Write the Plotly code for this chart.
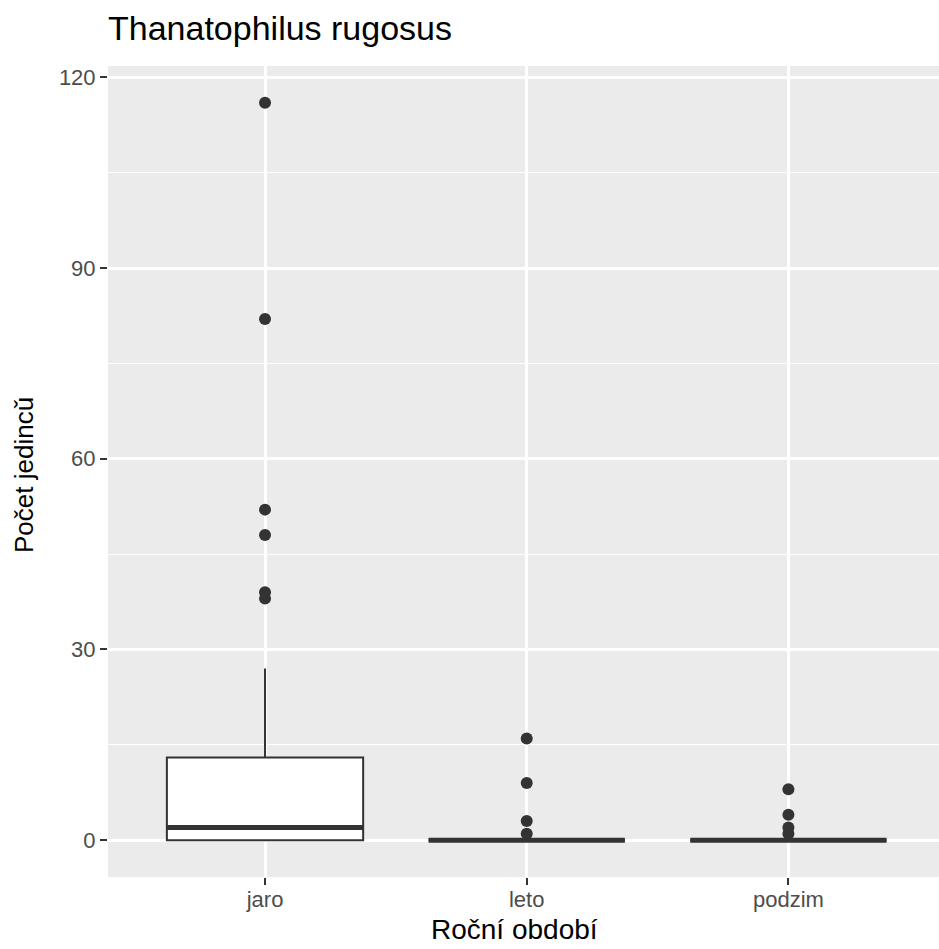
import plotly.graph_objects as go

categories = ["jaro", "leto", "podzim"]
q1 = [0, 0, 0]
medians = [2, 0, 0]
q3 = [13, 0, 0]
lower_whisker = [0, 0, 0]
upper_whisker = [27, 0, 0]
outliers = {
    "jaro": [116, 82, 52, 48, 39, 38],
    "leto": [16, 9, 3, 1],
    "podzim": [8, 4, 2, 1],
}
y_ticks = [0, 30, 60, 90, 120]
y_minor = [15, 45, 75, 105]

title_text = "Thanatophilus rugosus"
x_title = "Roční období"
y_title = "Počet jedincǔ"

positions = [i + 1 for i in range(len(categories))]
box_width = 0.75
dark = "#333333"
font_family = "Liberation Sans, Arial, sans-serif"

fig = go.Figure()

fig.add_trace(go.Box(
    x=positions, q1=q1, median=medians, q3=q3,
    lowerfence=lower_whisker, upperfence=upper_whisker,
    width=box_width, whiskerwidth=0,
    fillcolor="white", line=dict(color=dark, width=2),
    boxpoints=False, showlegend=False, hoverinfo="skip",
))

# thicker median lines (ggplot fatten)
for pos, m in zip(positions, medians):
    fig.add_trace(go.Scatter(
        x=[pos - box_width / 2, pos + box_width / 2], y=[m, m],
        mode="lines", line=dict(color=dark, width=5),
        showlegend=False, hoverinfo="skip",
    ))

for pos, cat in zip(positions, categories):
    vals = outliers[cat]
    fig.add_trace(go.Scatter(
        x=[pos] * len(vals), y=vals, mode="markers",
        marker=dict(color=dark, size=12, line=dict(width=0)),
        showlegend=False, hoverinfo="skip",
    ))

ymin, ymax = -5.8, 121.8
fig.update_layout(
    width=939, height=949,
    margin=dict(l=108, r=0, t=66, b=72),
    paper_bgcolor="white", plot_bgcolor="#EBEBEB",
    font=dict(family=font_family, color="#4D4D4D"),
    title=dict(text=title_text, x=0, xref="paper", xanchor="left",
               y=1 - 28 / 949, yref="container", yanchor="middle",
               font=dict(size=34, color="black", family=font_family)),
    xaxis=dict(
        range=[0.4, 0.4 + 831 / 261.7],
        tickvals=positions, ticktext=categories,
        showgrid=True, gridcolor="white", gridwidth=2.6,
        zeroline=False, showline=False,
        ticks="outside", ticklen=7, tickwidth=2, tickcolor=dark,
        ticklabelstandoff=-4,
        tickfont=dict(size=22, color="#4D4D4D"),
    ),
    yaxis=dict(
        range=[ymin, ymax],
        tickvals=y_ticks,
        showgrid=True, gridcolor="white", gridwidth=2.6,
        zeroline=False, showline=False,
        ticks="outside", ticklen=7, tickwidth=2, tickcolor=dark,
        tickfont=dict(size=22, color="#4D4D4D"),
        minor=dict(tickvals=y_minor, showgrid=True,
                   gridcolor="white", gridwidth=1.3, ticks=""),
    ),
    annotations=[
        dict(text=x_title, xref="paper", yref="paper",
             x=(514 - 108) / 831, y=-(929 - 877) / 811,
             xanchor="center", yanchor="middle", showarrow=False,
             font=dict(size=28, color="black", family=font_family)),
        dict(text=y_title, xref="paper", yref="paper",
             x=-(108 - 24) / 831, y=(877 - 475) / 811,
             xanchor="center", yanchor="middle", textangle=-90, showarrow=False,
             font=dict(size=26, color="black", family=font_family)),
    ],
)

fig.write_html("out.html")
